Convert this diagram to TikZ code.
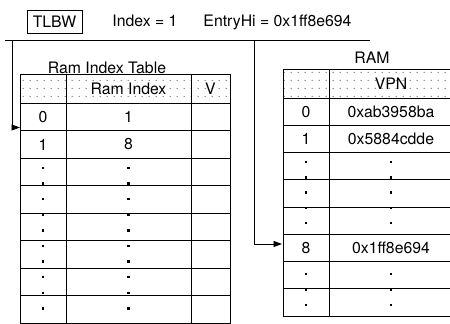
\documentclass[tikz,border=0pt]{standalone}
\usepackage{fontspec}
\setmainfont{TeX Gyre Heros}
\usetikzlibrary{arrows.meta,patterns.meta}

\tikzdeclarepattern{
  name=hdrdots,
  type=uncolored,
  bounding box={(0pt,0pt) and (6.7pt,8pt)},
  tile size={(6.7pt,8pt)},
  code={\pgfpathcircle{\pgfpoint{3.3pt}{4pt}}{0.65pt}\pgfusepath{fill}}
}

\tikzset{
  tab/.style={line width=0.9pt},
  hdr/.style={pattern=hdrdots, pattern color=black!65},
  bus/.style={line width=0.8pt},
  tip/.style={-{Triangle[length=8.5pt,width=6pt]}},
  cellbox/.style={inner sep=0pt}
}

\begin{document}
\begin{tikzpicture}[x=1pt,y=-1pt,font=\fontsize{15.8}{18}\selectfont]
                \clip (0,0) rectangle (450,324);

                \fill[hdr] (20,74)  rectangle (230,103);
                \fill[hdr] (283,69) rectangle (453,98);

                \draw[tab] (20,74) rectangle (230,323);
                \foreach \x in {66,191}
                    \draw[tab] (\x,74) -- (\x,323);
                \foreach \k in {0,...,7}
                    \draw[tab] (20,{103+27.5*\k}) -- (230,{103+27.5*\k});

                \draw[tab] (283,69) rectangle (453,316);
                \draw[tab] (329,69) -- (329,316);
                \foreach \k in {0,...,7}
                    \draw[tab] (283,{98+27.25*\k}) -- (453,{98+27.25*\k});

                \node[draw, line width=0.8pt, minimum width=55pt, minimum height=23pt, inner sep=0pt]
                      (tlbw)     at (54.5,21.5) {TLBW};
                \node[anchor=base] (idx)      at (145,27)   {Index = 1};
                \node[anchor=base] (entryhi)  at (277.5,27) {EntryHi = 0x1ff8e694};

                \node[anchor=base] (rittitle) at (107,73)   {Ram Index Table};
                \node[anchor=base] (ramtitle) at (372,63)   {RAM};

                \node[cellbox] (rith)  at (128.5,88.5) {Ram Index};
                \node[cellbox] (ritv)  at (210.5,88.5) {V};
                \node[cellbox] (rit0a) at (43,117)     {0};
                \node[cellbox] (rit0b) at (128.5,117)  {1};
                \node[cellbox] (rit1a) at (43,144.5)   {1};
                \node[cellbox] (rit1b) at (128.5,144.5) {8};

                \node[cellbox] (ramh)  at (391,83.5)   {VPN};
                \node[cellbox] (ram0a) at (306,111.6)  {0};
                \node[cellbox] (ram0b) at (391,111.6)  {0xab3958ba};
                \node[cellbox] (ram1a) at (306,138.9)  {1};
                \node[cellbox] (ram1b) at (391,138.9)  {0x5884cdde};
                \node[cellbox] (ram8a) at (306,247.9)  {8};
                \node[cellbox] (ram8b) at (391,247.9)  {0x1ff8e694};

                \foreach \k in {0,...,9} {
                    \fill (41.8,{168+15.6*\k-1.2})  rectangle +(2.4,2.4);
                    \fill (127.3,{168+15.6*\k-1.2}) rectangle +(2.4,2.4);
                }
                \foreach \y in {162,177.3,192.6,207.9,223.2,274,289.5,305} {
                    \fill (304.8,\y-1.2) rectangle +(2.4,2.4);
                    \fill (389.8,\y-1.2) rectangle +(2.4,2.4);
                }

                \coordinate (busw)  at (5,40);
                \coordinate (buse)  at (370,40);
                \coordinate (tapl)  at (12.3,40);
                \coordinate (tapr)  at (254,40);
                \coordinate (ritin) at (20,127.5);
                \coordinate (ramin) at (282,244);

                \draw[bus] (busw) -- (buse);
                \draw[bus,tip] (tapl) |- (ritin);
                \draw[bus,tip] (tapr) |- (ramin);
            \end{tikzpicture}
\end{document}
